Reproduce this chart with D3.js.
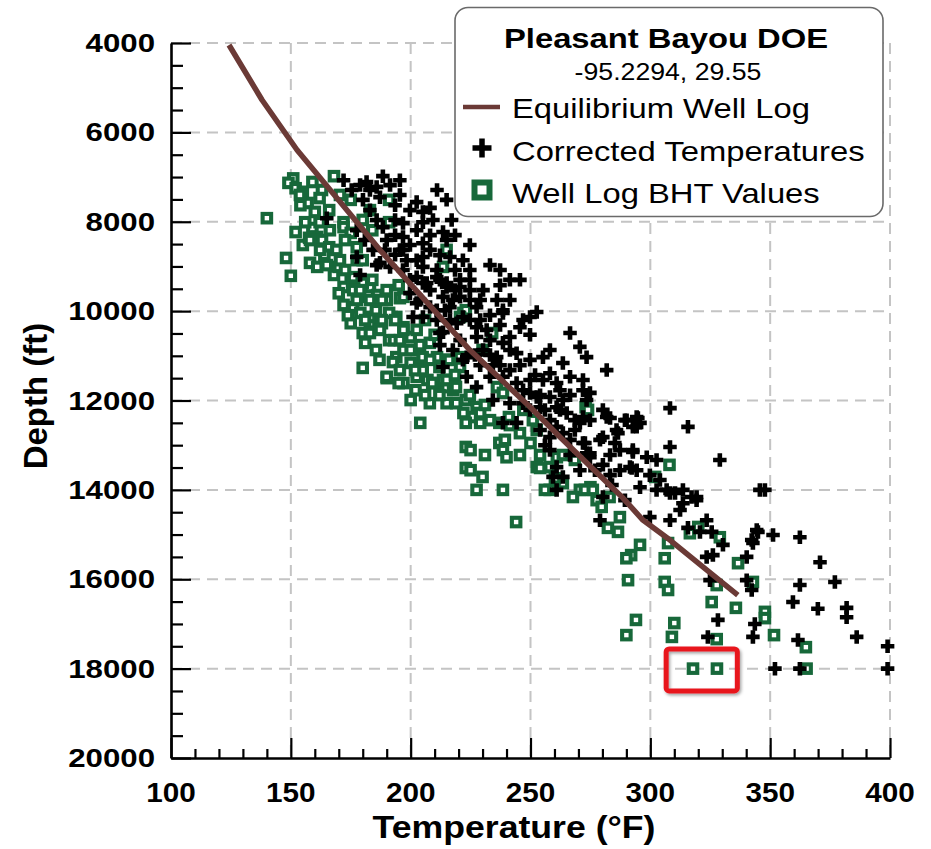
<!DOCTYPE html>
<html>
<head>
<meta charset="utf-8">
<script src="https://cdn.jsdelivr.net/npm/d3@7"></script>
<style>
  html, body { margin: 0; padding: 0; background: #fff; }
  svg { display: block; font-family: "Liberation Sans", Arial, Helvetica, sans-serif; }
</style>
</head>
<body>
<svg id="chart" width="931" height="849"></svg>
<script>
// ---- data: temperature (°F) vs depth (ft) ----
const tempTicks = [100, 150, 200, 250, 300, 350, 400];
const depthTicks = [4000, 6000, 8000, 10000, 12000, 14000, 16000, 18000, 20000];

const legendTitle = "Pleasant Bayou DOE";
const legendCoords = "-95.2294, 29.55";
const seriesNames = ["Equilibrium Well Log", "Corrected Temperatures", "Well Log BHT Values"];
const axisTitles = ["Temperature (°F)", "Depth (ft)"];

// equilibrium temperature log [temp, depth]
const equilibriumLog = [
  [124.2, 4045], [138.0, 5276], [152.6, 6395], [187.2, 8633], [224.7, 10871],
  [249.8, 12146], [262.3, 12818], [288.6, 14183], [296.9, 14675], [308.2, 15123],
  [323.6, 15794], [336.5, 16354]
];

// corrected bottom-hole temperatures [temp, depth]
const correctedTemps = [
  [172,7070],[175.4,7290],[181.6,7110],[188.4,6980],[185.8,7220],[187.2,7450],[180.1,7510],[183,7740],
  [202.5,7560],[208.1,7690],[215,7510],[205.1,7780],[165,7920],[177.5,8190],[185.8,7960],[188.4,8120],
  [196.8,8030],[205.1,8010],[209.3,7960],[217.1,7960],[213.5,8230],[202.5,8190],[196.8,8340],[190,8410],
  [184.3,8630],[177.5,8790],[196.8,8630],[205.1,8480],[208.1,8630],[215,8410],[221.8,8860],[185.8,8970],
  [191.4,9010],[196.8,9080],[202.5,8860],[205.1,9010],[178.9,9190],[199.7,9300],[205.1,9370],[210.9,9240],
  [215,9460],[220.6,9300],[199.7,9600],[202.5,9820],[208.1,9910],[205.1,10130],[210.9,10200],[216.4,9910],
  [220.6,9680],[219.2,10270],[213.5,10470],[221.8,11090],[213.5,11250],[223.4,11470],[195.5,8630],
  [187.2,8920],[198.3,8860],[205.1,8790],[210.9,9080],[216.4,8790],[224.7,9080],[233.1,8970],[245.6,9300],
  [215,9370],[220.6,9460],[224.7,9300],[202.5,9240],[206.7,9370],[213.5,9680],[217.6,9750],[224.7,9750],
  [227.5,9910],[238.5,9980],[252.6,10020],[246.9,10200],[249.8,10130],[245.6,10360],[201,10130],[210.9,9980],
  [216.4,10200],[221.8,10130],[227.5,10360],[231.7,10420],[227.5,10580],[233.1,10650],[238.5,10710],[212.2,10490],
  [223.4,11030],[230.2,10870],[235.9,11030],[241.4,10580],[244.2,10940],[249.8,11090],[255.2,11030],[258.1,10870],
  [266.5,10490],[270.6,10800],[273.4,11030],[263.5,11160],[258.1,11390],[255.2,11540],[260.9,11610],[266.5,11470],
  [271.9,11540],[271.9,11770],[274.8,11830],[273.4,11990],[281.8,11320],[227.5,11700],[233.1,11470],[238.5,11470],
  [244.2,11610],[246.9,11770],[249.8,11830],[252.6,11920],[258.1,11920],[263.5,11990],[234.3,11990],[241.4,12060],
  [246.9,12060],[254,12150],[260.9,12150],[265.1,12280],[270.6,12500],[271.9,12370],[238.5,12500],[244.2,12500],
  [258.1,12440],[260.9,12590],[263.5,12730],[258.1,12820],[258.1,13110],[260.9,13490],[259.4,13710],[263.5,13710],
  [271.9,12950],[273.4,13180],[274.8,13270],[280.2,12210],[281.8,12370],[285.9,12660],[280.2,12820],[290.1,12440],
  [294.3,12370],[292.7,12590],[295.7,12500],[292.7,13110],[298.5,13270],[302.6,13330],[291.5,13490],[287.3,13560],
  [294.3,13560],[295.7,13940],[308.2,12170],[308.2,13040],[315.7,12590],[302.6,14000],[308.2,14070],[313.6,14000],
  [319.3,14160],[280.2,14160],[260.9,14000],[241.4,9300],[238.5,10040],
  [329,13330],[345.7,14000],[347.8,14000],[262.3,12210],[283.2,12390],[289.4,12440],[294.8,12390],[294.3,12590],
  [286.5,12730],[285.2,12950],[272.7,12950],[274.8,13180],[292.7,13150],[292.2,13510],[299.8,14610],[279,14680],
  [306.8,14000],[310.3,14070],[313.6,14300],[317.2,14160],[319.3,14230],[315.7,14850],[320.7,14940],[323.5,14680],
  [325.6,14940],[330.3,15230],[342.3,15120],[344.4,14900],[351.2,15010],[362.4,15060],[323.5,15500],[326.1,15460],
  [340.2,15500],[370.8,15620],[324.9,16020],[340.2,16020],[342.3,16240],[362.4,16130],[377,16060],[359.5,16510],
  [369.9,16660],[381.9,16640],[381.9,16850],[343.6,17000],[328.2,16910],[386.1,17290],[342.8,17290],[324,17290],
  [361.6,17360],[399,17500],[352,18000],[362.4,18000],[399,18000],[344.9,14940],[342.8,15190],
  [230.2,9530],[236,9750],[233.1,10090],[241.4,9750],[249.8,10530],[220.6,10650],[217.6,10870],[237.3,11210],
  [241.4,11320],[226.8,10980],[193.5,8300],[199.7,7740],[193.5,7630],[191.4,7180],[195.5,7400],[211,7290],
  [212.2,8750],[218.5,9080],[224.7,8520],[237.3,9420],[229,10200],[212.2,10760],[234.3,11210],[249.8,11540],
  [254,11880],[266.5,11880],[268.5,12660],[266.5,13220],[276.9,13560],[280.2,13440],[270.6,13560],[284,13890],
  [289.4,14230],[283.2,13220],
  [193.5,7960],[199.7,8520],[208.1,8300],[193.5,8740],[189.3,8630],[212.2,9300],[218.5,9530],[224.7,9530],
  [229,9750],[208.1,9530],[203.9,9750],[214.3,9980],[224.7,10200],[237.3,10310],[241.4,10870],[233.1,10980],
  [229,11210],[245.6,11210],[251.9,11430],[262.3,11770],[256,12210],[268.5,12440],[249.8,12210],[254,12660],
  [256,13000],[266.5,12880],[274.8,12440],[279,12880],[287.3,13110],[283.2,13670],[299.8,13670],[304,13780],
  [312.4,14450],[308.2,14680],[180.9,8410],[183,7290],[195.5,7070],[178.9,7180],[218.5,8300],[237.3,9080]
];

// uncorrected well log BHT values [temp, depth]
const bhtValues = [
  [140,7920],[151,7030],[149,7130],[152,7250],[155,7330],[157,7580],[159,7110],[163,7290],[162,7470],[168,6980],
  [160,7780],[172,8010],[152,8230],[155,8520],[159,8140],[161,8340],[163,8410],[166,8570],[169,8630],[148,8810],
  [150,9210],[158,8920],[161,9010],[165,8970],[168,9190],[170,9010],[177.5,8570],[172,8120],[175,8250],[191,7510],
  [191,8010],[175,9260],[172,9460],[170,9600],[172,9860],[176,9910],[178,9680],[183,9460],[186,9640],[190,9750],
  [195.5,9710],[195,9420],[175,10270],[180,10490],[183,10270],[188,10270],[183,10490],[194,10130],[197,10360],
  [200,10580],[191,10650],[180,11270],[190,11500],[194,11030],[197,10870],[200,11160],[202.5,10870],[205,11030],
  [208,10710],[211,11030],[215,11090],[197,11610],[202.5,11470],[207,11540],[211,11610],[215,11700],[205,11250],
  [213.5,11540],[222,10040],[215,8630],[213.5,9010],[183,7740],[180,7960],[184,8190],[190,9530],[197,9680],
  [177.5,8860],[176,9240],[180,9370],[184,9300],[177.5,9750],[183,9750],[188,9750],[191,10040],[183,10130],
  [188,10200],[190,11470],[195,11610],[193,10650],[197,10420],[200,10870],[216,11090],[212,11250],[205,11320],
  [215,11540],[209,11610],[200,11990],[208,12060],[204,12500],[215,12060],[219,12060],[223,11990],[222,12280],
  [227.5,12150],[226,12370],[229,12500],[223,12500],[229,12280],[236,11700],[238.5,11830],[237,12500],[241,12370],
  [247,12210],[251,12440],[245.6,12730],[250,12950],[252.6,12660],[223,13040],[225,13110],[223,13510],[225,13560],
  [230,13710],[237,12950],[238.5,13110],[240,13270],[227.5,14000],[238.5,14000],[252.6,13490],[258,13490],
  [261,13270],[258,14000],[263.5,13850],[270.6,14000],[275,13940],[273,12150],[220.6,11030],[220.6,11250],
  [230,10870],[234,10490],[223,9980],[220.6,10130],[180,8860],[274,12210],[263.5,13220],[268.5,13330],
  [267.7,14160],[272.7,14000],[276,14000],[277.6,14230],[279.7,14380],[283,14160],[287.3,14610],[282.3,14850],
  [286.5,14940],[308,13440],[302,13710],[295.7,15230],[292,15460],[290,15530],[306,15530],[290.7,16020],
  [306,16060],[307.4,16240],[307.4,15190],[316.5,14970],[320,14830],[329,15060],[336.6,15640],[327.7,16130],
  [342.8,16060],[325.6,16510],[335.7,16640],[347.8,16730],[347.8,16870],[294,16910],[290,17250],[310,16980],
  [309,17290],[327.7,17340],[351.6,17250],[364.9,17520],[317.8,18000],[327.8,18000],[365.2,18000],[244,14720],
  [254,13510],
  [179,10040],[185.5,9980],[181,10710],[185.5,10870],[192.6,11140],[187,11090],[202,11770],[206,11880],
  [212,11880],[217.7,11770],[218.5,11430],[202.5,10420],[206,10200],[210,10530],[176,9530],[181,10200],
  [170.5,8860],[164,8740],[156,8010],[166,7740],[175,7510],[154,7630],[162,8010],[157.6,8360],[172.6,8410],
  [166.3,8190],[172.6,9080],[178.9,9530],[173.8,10090],[193.5,10200],[187.2,10420],[195.5,10650],[203.9,10760],
  [208.1,11090],[201.8,11320],[195.5,11320],[218.9,11700],[224.7,11880],[231,12100],[233.1,12440],[241.4,12550],
  [239.3,12880],[231,13220],[245.6,13220],[254,13220],[260.2,13740],[256,14000],[153.8,7400],[170.5,7400],
  [162.2,8630],[158,8410]
];

// highlighted region around the two deepest BHT readings
const highlightTemp = [306.6, 336.3];
const highlightDepth = [17560, 18500];

// ---- drawing ----
const svg = d3.select("#chart");
const x = d3.scaleLinear().domain([100, 400]).range([171, 890]);
const y = d3.scaleLinear().domain([4000, 20000]).range([43, 758]);

const COLORS = { grid: "#c4c4c4", line: "#6b3a36", green: "#17683a", cross: "#000", red: "#e8161e" };

const defs = svg.append("defs");
const shadow = defs.append("filter").attr("id", "boxShadow")
  .attr("x", "-20%").attr("y", "-20%").attr("width", "140%").attr("height", "160%");
shadow.append("feDropShadow").attr("dx", 1.5).attr("dy", 2).attr("stdDeviation", 1.6)
  .attr("flood-color", "#000").attr("flood-opacity", 0.35);

// dashed grid
const grid = svg.append("g").attr("class", "grid")
  .attr("stroke", COLORS.grid).attr("stroke-width", 2).attr("stroke-dasharray", "11,7");
grid.selectAll("line.v").data(tempTicks.slice(1)).join("line").attr("class", "v")
  .attr("x1", d => x(d)).attr("x2", d => x(d)).attr("y1", y(4000)).attr("y2", y(20000));
grid.selectAll("line.h").data(depthTicks.slice(0, -1)).join("line").attr("class", "h")
  .attr("x1", x(100)).attr("x2", x(400)).attr("y1", d => y(d)).attr("y2", d => y(d));

// BHT squares
const sq = 8.5;
svg.append("g").selectAll("rect").data(bhtValues).join("rect")
  .attr("x", d => x(d[0]) - sq / 2).attr("y", d => y(d[1]) - sq / 2)
  .attr("width", sq).attr("height", sq)
  .attr("fill", "#fff").attr("stroke", COLORS.green).attr("stroke-width", 4.1);

// corrected temperature crosses
const crossPath = (cx, cy, a, t) => {
  const h = a / 2, w = t / 2;
  return `M${cx - w},${cy - h}H${cx + w}V${cy - w}H${cx + h}V${cy + w}H${cx + w}V${cy + h}H${cx - w}V${cy + w}H${cx - h}V${cy - w}H${cx - w}Z`;
};
svg.append("g").selectAll("path").data(correctedTemps).join("path")
  .attr("d", d => crossPath(x(d[0]), y(d[1]), 13.5, 4.6))
  .attr("fill", COLORS.cross);

// equilibrium log line
svg.append("path").datum(equilibriumLog)
  .attr("d", d3.line().x(d => x(d[0])).y(d => y(d[1])))
  .attr("fill", "none").attr("stroke", COLORS.line).attr("stroke-width", 5.5)
  .attr("stroke-linejoin", "round").attr("stroke-linecap", "butt");

// axes
const minorDepth = d3.range(4000, 20001, 500).filter(v => v % 2000 !== 0);
const minorTemp = d3.range(100, 401, 10).filter(v => v % 50 !== 0);

const yAxis = svg.append("g").attr("transform", `translate(${x(100)},0)`);
yAxis.call(d3.axisLeft(y).tickValues(depthTicks).tickSize(-20).tickSizeOuter(0).tickFormat(""));
yAxis.append("g").call(d3.axisLeft(y).tickValues(minorDepth).tickSize(-12).tickFormat(""))
  .select(".domain").remove();

const xAxis = svg.append("g").attr("transform", `translate(0,${y(20000)})`);
xAxis.call(d3.axisBottom(x).tickValues(tempTicks).tickSize(-20).tickSizeOuter(0).tickFormat(""));
xAxis.append("g").call(d3.axisBottom(x).tickValues(minorTemp).tickSize(-9).tickFormat(""))
  .select(".domain").remove();

svg.selectAll(".domain").attr("stroke", "#000").attr("stroke-width", 2.6);
svg.selectAll(".tick line").attr("stroke", "#000").attr("stroke-width", 2.2);

// stretched text helper
function label(px, py, txt, opts) {
  const g = svg.append("g").attr("transform",
    `translate(${px},${py}) rotate(${opts.rotate || 0}) scale(${opts.sx || 1},1)`);
  g.append("text").attr("text-anchor", opts.anchor || "middle")
    .attr("font-size", opts.size).attr("font-weight", opts.weight || "normal")
    .attr("fill", "#000").text(txt);
  return g;
}

depthTicks.forEach(v => label(155, y(v) + 9, v, { size: 26, weight: "bold", anchor: "end", sx: 1.2 }));
tempTicks.forEach(v => label(x(v), 802, v, { size: 27, weight: "bold", sx: 1.1 }));
label(514, 838, axisTitles[0], { size: 31, weight: "bold", sx: 1.15 });
label(47, 396, axisTitles[1], { size: 33, weight: "bold", rotate: -90 });

// highlight box
const hx0 = x(highlightTemp[0]), hx1 = x(highlightTemp[1]);
const hy0 = y(highlightDepth[0]), hy1 = y(highlightDepth[1]);
svg.append("rect").attr("x", hx0).attr("y", hy0).attr("width", hx1 - hx0).attr("height", hy1 - hy0)
  .attr("rx", 3).attr("fill", "none").attr("stroke", COLORS.red).attr("stroke-width", 5)
  .attr("filter", "url(#boxShadow)");

// legend
const lg = svg.append("g");
lg.append("rect").attr("x", 455).attr("y", 7.5).attr("width", 428).attr("height", 209)
  .attr("rx", 13).attr("fill", "#fff").attr("stroke", "#6a6a6a").attr("stroke-width", 1.6);
label(666, 48, legendTitle, { size: 28, weight: "bold", sx: 1.17 });
label(668, 80, legendCoords, { size: 23, sx: 1.16 });
lg.append("line").attr("x1", 463).attr("x2", 500).attr("y1", 107).attr("y2", 107)
  .attr("stroke", COLORS.line).attr("stroke-width", 4.5);
svg.append("path").attr("d", crossPath(482, 148, 19, 5.5)).attr("fill", COLORS.cross);
svg.append("rect").attr("x", 474.5).attr("y", 182.5).attr("width", 15).attr("height", 15)
  .attr("fill", "#fff").attr("stroke", COLORS.green).attr("stroke-width", 6);
seriesNames.forEach((s, i) => label(512, 118 + i * 42.5, s, { size: 28, anchor: "start", sx: 1.17 }));
</script>
</body>
</html>
